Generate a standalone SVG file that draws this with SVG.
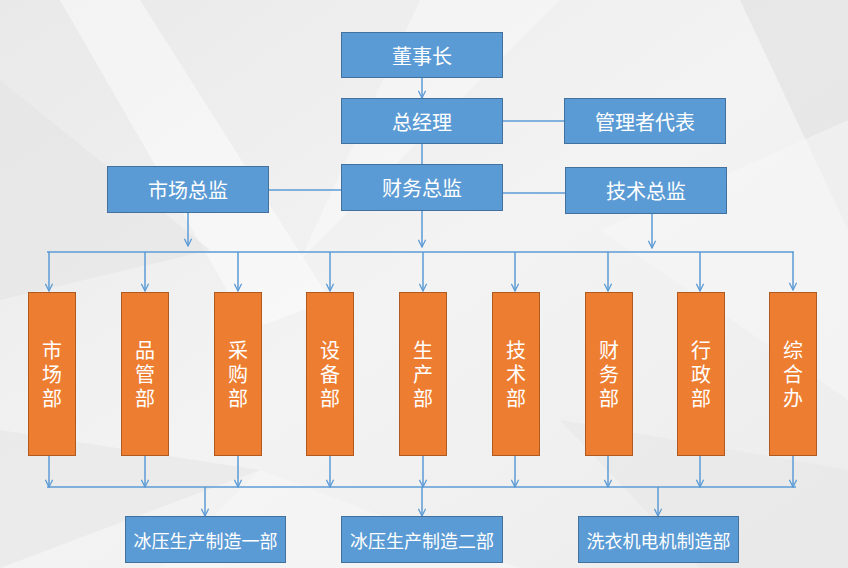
<svg xmlns="http://www.w3.org/2000/svg" width="848" height="568" viewBox="0 0 848 568">
<style>
.blue{fill:#5B9BD5;stroke:#41719C;stroke-width:1}
.orange{fill:#ED7D31;stroke:#AE5A21;stroke-width:1}
.t{font-family:"Noto Sans CJK SC","Noto Sans",sans-serif;fill:#ffffff;text-anchor:middle;dominant-baseline:central}
.t20{font-size:20px}
.t18{font-size:18px}
.tv{font-size:20px;writing-mode:vertical-rl;letter-spacing:4px}
.c{fill:none;stroke:#5B9BD5;stroke-width:1.5}
.a{marker-end:url(#arr)}
</style>
<defs>
<marker id="arr" viewBox="0 0 10 10" refX="9" refY="5" markerWidth="9" markerHeight="9" markerUnits="userSpaceOnUse" orient="auto">
<path d="M1,1 L9,5 L1,9" fill="none" stroke="#5B9BD5" stroke-width="1.4"/>
</marker>
<linearGradient id="bg" x1="0" y1="0" x2="1" y2="1">
<stop offset="0" stop-color="#e9e9e9"/>
<stop offset="0.5" stop-color="#f3f3f3"/>
<stop offset="1" stop-color="#ececec"/>
</linearGradient>
</defs>
<g id="background">
<rect x="0" y="0" width="848" height="568" fill="url(#bg)"/>
<polygon points="60,0 140,0 330,300 250,330" fill="#ffffff" opacity="0.45"/>
<polygon points="0,80 0,300 210,250" fill="#e4e4e4" opacity="0.6"/>
<polygon points="420,0 560,0 300,260" fill="#ffffff" opacity="0.35"/>
<polygon points="740,0 848,0 848,230" fill="#e2e2e2" opacity="0.7"/>
<polygon points="600,230 848,120 848,400" fill="#f7f7f7" opacity="0.5"/>
<polygon points="0,430 260,470 0,568" fill="#e6e6e6" opacity="0.6"/>
<polygon points="260,470 520,568 160,568" fill="#f7f7f7" opacity="0.6"/>
<polygon points="560,420 848,470 848,568 700,568" fill="#e5e5e5" opacity="0.5"/>
</g>
<g id="connectors">
<path class="c a" d="M422,77 V98"/>
<path class="c" d="M422,143 V165"/>
<path class="c" d="M502,121 H565"/>
<path class="c" d="M268,190 H341"/>
<path class="c" d="M502,193 H565"/>
<path class="c a" d="M188,212 V246"/>
<path class="c a" d="M422,210 V247"/>
<path class="c a" d="M652,213 V248"/>
<path class="c" d="M47,252 H794"/>
<path class="c a" d="M49,252 V291"/>
<path class="c a" d="M145,252 V291"/>
<path class="c a" d="M238,252 V291"/>
<path class="c a" d="M330,252 V291"/>
<path class="c a" d="M423,252 V291"/>
<path class="c a" d="M515,252 V291"/>
<path class="c a" d="M608,252 V291"/>
<path class="c a" d="M700,252 V291"/>
<path class="c a" d="M793,252 V290"/>
<path class="c a" d="M49,455 V487"/>
<path class="c a" d="M145,455 V487"/>
<path class="c a" d="M238,455 V487"/>
<path class="c a" d="M330,455 V487"/>
<path class="c a" d="M423,455 V487"/>
<path class="c a" d="M515,455 V487"/>
<path class="c a" d="M608,455 V487"/>
<path class="c a" d="M700,455 V487"/>
<path class="c a" d="M793,455 V487"/>
<path class="c" d="M47,487 H796"/>
<path class="c a" d="M205,487 V516"/>
<path class="c a" d="M422,487 V516"/>
<path class="c a" d="M658,487 V516"/>
</g>
<g id="n-chairman"><rect class="blue" x="341.5" y="32.5" width="161" height="45"/><text class="t t20" x="422" y="55">董事长</text></g>
<g id="n-gm"><rect class="blue" x="341.5" y="98.5" width="161" height="45"/><text class="t t20" x="422" y="121">总经理</text></g>
<g id="n-rep"><rect class="blue" x="564.5" y="98.5" width="161" height="45"/><text class="t t20" x="645" y="121">管理者代表</text></g>
<g id="n-mkt-dir"><rect class="blue" x="107.5" y="166.5" width="161" height="46"/><text class="t t20" x="188" y="189">市场总监</text></g>
<g id="n-fin-dir"><rect class="blue" x="341.5" y="164.5" width="161" height="46"/><text class="t t20" x="422" y="187">财务总监</text></g>
<g id="n-tech-dir"><rect class="blue" x="565.5" y="167.5" width="161" height="46"/><text class="t t20" x="646" y="190">技术总监</text></g>
<g id="d-mkt"><rect class="orange" x="28.5" y="292.5" width="47" height="163"/><text class="t tv" x="52" y="376">市场部</text></g>
<g id="d-qc"><rect class="orange" x="121.5" y="292.5" width="47" height="163"/><text class="t tv" x="145" y="376">品管部</text></g>
<g id="d-buy"><rect class="orange" x="214.5" y="292.5" width="47" height="163"/><text class="t tv" x="238" y="376">采购部</text></g>
<g id="d-equip"><rect class="orange" x="306.5" y="292.5" width="47" height="163"/><text class="t tv" x="330" y="376">设备部</text></g>
<g id="d-prod"><rect class="orange" x="399.5" y="292.5" width="47" height="163"/><text class="t tv" x="423" y="376">生产部</text></g>
<g id="d-tech"><rect class="orange" x="492.5" y="292.5" width="47" height="163"/><text class="t tv" x="516" y="376">技术部</text></g>
<g id="d-fin"><rect class="orange" x="585.5" y="292.5" width="47" height="163"/><text class="t tv" x="609" y="376">财务部</text></g>
<g id="d-admin"><rect class="orange" x="677.5" y="292.5" width="47" height="163"/><text class="t tv" x="701" y="376">行政部</text></g>
<g id="d-general"><rect class="orange" x="769.5" y="292.5" width="47" height="163"/><text class="t tv" x="793" y="376">综合办</text></g>
<g id="p-1"><rect class="blue" x="125.5" y="516.5" width="160" height="46"/><text class="t t18" x="205.5" y="540">冰压生产制造一部</text></g>
<g id="p-2"><rect class="blue" x="341.5" y="516.5" width="161" height="46"/><text class="t t18" x="422" y="540">冰压生产制造二部</text></g>
<g id="p-3"><rect class="blue" x="578.5" y="516.5" width="160" height="46"/><text class="t t18" x="658.5" y="540">洗衣机电机制造部</text></g>
</svg>
